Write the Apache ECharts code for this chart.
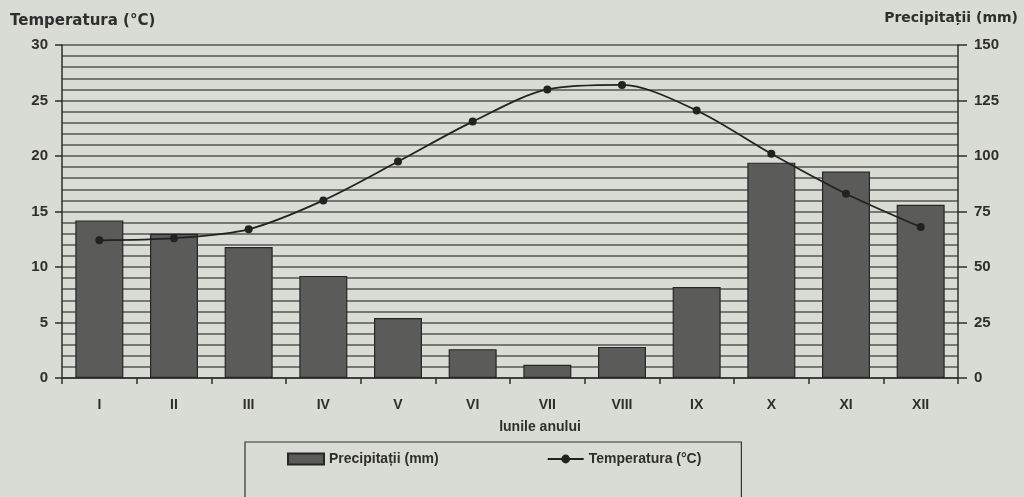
<!DOCTYPE html>
<html>
<head>
<meta charset="utf-8">
<title>Temperatura si precipitatii</title>
<script src="https://cdn.jsdelivr.net/npm/echarts@6/dist/echarts.min.js"></script>
<style>
  html, body { margin: 0; padding: 0; background: #d9dbd5; }
  #chart { width: 1024px; height: 497px; }
</style>
</head>
<body>
<div id="chart"></div>
<script>
// lunile anului
const months = ['I', 'II', 'III', 'IV', 'V', 'VI', 'VII', 'VIII', 'IX', 'X', 'XI', 'XII']
// Precipitații (mm)
const precipitatii = [71, 65, 59, 46, 27, 13, 6, 14, 41, 97, 93, 78]
// Temperatura (°C)
const temperatura = [12.4, 12.6, 13.4, 16.0, 19.5, 23.1, 26.0, 26.4, 24.1, 20.2, 16.6, 13.6]

const font = 'Liberation Sans'
const titleFont = 'DejaVu Sans'
const ink = '#2e2e2e'

const chart = echarts.init(document.getElementById('chart'))
chart.setOption({
  backgroundColor: '#d9dbd5',
  animation: false,
  textStyle: { fontFamily: font },
  grid: {
    left: 62,
    right: 66,
    top: 45,
    bottom: 119
  },
  legend: {
    left: 245,
    top: 442,
    itemGap: 108,
    itemWidth: 36,
    itemHeight: 11,
    padding: [10, 40, 40, 42],
    borderColor: '#333',
    borderWidth: 1.2,
    textStyle: { fontFamily: font, fontSize: 14, fontWeight: 'bold', color: ink },
    data: [
      { name: 'Precipitații (mm)', icon: 'rect' },
      { name: 'Temperatura (°C)' }
    ]
  },
  xAxis: {
    type: 'category',
    data: months,
    name: 'lunile anului',
    nameLocation: 'middle',
    nameGap: 42,
    nameTextStyle: { fontFamily: font, fontSize: 14, fontWeight: 'bold', color: ink, padding: [0, 0, 0, 60] },
    axisLine: { lineStyle: { color: ink, width: 1.5 } },
    axisTick: { show: true, length: 6, lineStyle: { color: ink, width: 1.5 } },
    axisLabel: { margin: 20, fontSize: 14, fontWeight: 'bold', color: ink }
  },
  yAxis: [
    {
      type: 'value',
      min: 0,
      max: 30,
      interval: 5,
      name: 'Temperatura (°C)',
      nameLocation: 'end',
      nameGap: 16,
      nameTextStyle: {
        fontFamily: titleFont, fontSize: 15, fontWeight: 'bold', color: ink,
        align: 'left', padding: [0, 0, 0, -52]
      },
      axisLine: { show: true, lineStyle: { color: ink, width: 1.5 } },
      axisTick: { show: true, length: 7, lineStyle: { color: ink, width: 1.5 } },
      axisLabel: { margin: 14, fontSize: 15, fontWeight: 'bold', color: ink },
      splitLine: { show: true, lineStyle: { color: '#555', width: 1.5 } },
      minorTick: { show: false, splitNumber: 5 },
      minorSplitLine: { show: true, lineStyle: { color: '#555', width: 1.5 } }
    },
    {
      type: 'value',
      min: 0,
      max: 150,
      interval: 25,
      name: 'Precipitații (mm)',
      nameLocation: 'end',
      nameGap: 20,
      nameTextStyle: {
        fontFamily: titleFont, fontSize: 14, fontWeight: 'bold', color: ink,
        align: 'right', padding: [0, -60, 0, 0]
      },
      axisLine: { show: true, lineStyle: { color: ink, width: 1.5 } },
      axisTick: { show: true, length: 9, lineStyle: { color: ink, width: 1.5 } },
      axisLabel: { margin: 16, fontSize: 15, fontWeight: 'bold', color: ink },
      splitLine: { show: false }
    }
  ],
  series: [
    {
      name: 'Precipitații (mm)',
      type: 'bar',
      yAxisIndex: 1,
      barWidth: 48,
      data: precipitatii,
      itemStyle: { color: '#5b5b59', borderColor: '#262626', borderWidth: 1.2 }
    },
    {
      name: 'Temperatura (°C)',
      type: 'line',
      yAxisIndex: 0,
      data: temperatura,
      smooth: 0.3,
      symbol: 'circle',
      symbolSize: 8,
      lineStyle: { color: '#222', width: 1.8 },
      itemStyle: { color: '#222' }
    }
  ]
})
</script>
</body>
</html>
